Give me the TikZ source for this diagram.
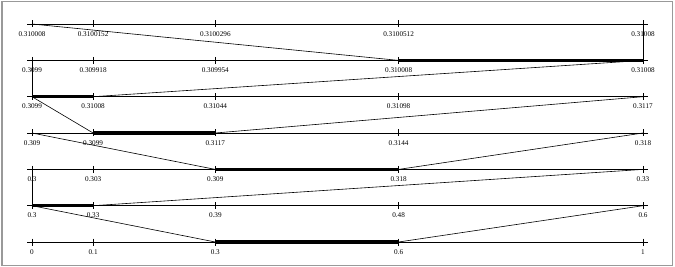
\documentclass[tikz,border=0pt]{standalone}
\usepackage{fontspec}
\setmainfont{Liberation Serif}

\tikzset{
  frame/.style={draw=black!40, line width=1.3pt},
  numline/.style={line width=0.6pt},
  numtick/.style={line width=0.6pt},
  ticklabel/.style={inner sep=0pt, font=\fontsize{7.2}{8}\selectfont},
  chosen/.style={line width=3.2pt, line cap=butt},
  zoomline/.style={line width=0.6pt},
}

\begin{document}
\begin{tikzpicture}[x=1pt, y=-1pt]
  \useasboundingbox (0,0) rectangle (675,267);
  \draw[frame] (2,1.5) rectangle (672.5,265.5);

  % Number lines, top (last step) to bottom (first step)
  \foreach \r/\yy/\la/\lb/\lc/\ld/\le in {
      1/24/0.310008/0.3100152/0.3100296/0.3100512/0.31008,
      2/60.4/0.3099/0.309918/0.309954/0.310008/0.31008,
      3/96.7/0.3099/0.31008/0.31044/0.31098/0.3117,
      4/133/0.309/0.3099/0.3117/0.3144/0.318,
      5/169.4/0.3/0.303/0.309/0.318/0.33,
      6/205.7/0.3/0.33/0.39/0.48/0.6,
      7/242/0/0.1/0.3/0.6/1}
  {
    \coordinate (r\r-a) at (27,\yy);
    \coordinate (r\r-b) at (648,\yy);
    \draw[numline] (r\r-a) -- (r\r-b);
    \foreach \f/\t [count=\i from 0] in {0/\la, 0.1/\lb, 0.3/\lc, 0.6/\ld, 1/\le}{
      \coordinate (r\r-\i) at ({32+611*\f},\yy);
      \draw[numtick] (r\r-\i) ++(0,-3.5) -- ++(0,7);
      \path (r\r-\i) ++(0,9.8) node[ticklabel] (r\r-l\i) {\t};
    }
  }

  % Chosen subintervals
  \draw[chosen] (r2-3) -- (r2-4);
  \draw[chosen] (r3-0) -- (r3-1);
  \draw[chosen] (r4-1) -- (r4-2);
  \draw[chosen] (r5-2) -- (r5-3);
  \draw[chosen] (r6-0) -- (r6-1);
  \draw[chosen] (r7-2) -- (r7-3);

  % Zoom connectors
  \draw[zoomline] (r2-3) -- (r1-0);
  \draw[zoomline] (r2-4) -- (r1-4);
  \draw[zoomline] (r3-0) -- (r2-0);
  \draw[zoomline] (r3-1) -- (r2-4);
  \draw[zoomline] (r4-1) -- (r3-0);
  \draw[zoomline] (r4-2) -- (r3-4);
  \draw[zoomline] (r5-2) -- (r4-0);
  \draw[zoomline] (r5-3) -- (r4-4);
  \draw[zoomline] (r6-0) -- (r5-0);
  \draw[zoomline] (r6-1) -- (r5-4);
  \draw[zoomline] (r7-2) -- (r6-0);
  \draw[zoomline] (r7-3) -- (r6-4);
\end{tikzpicture}
\end{document}
